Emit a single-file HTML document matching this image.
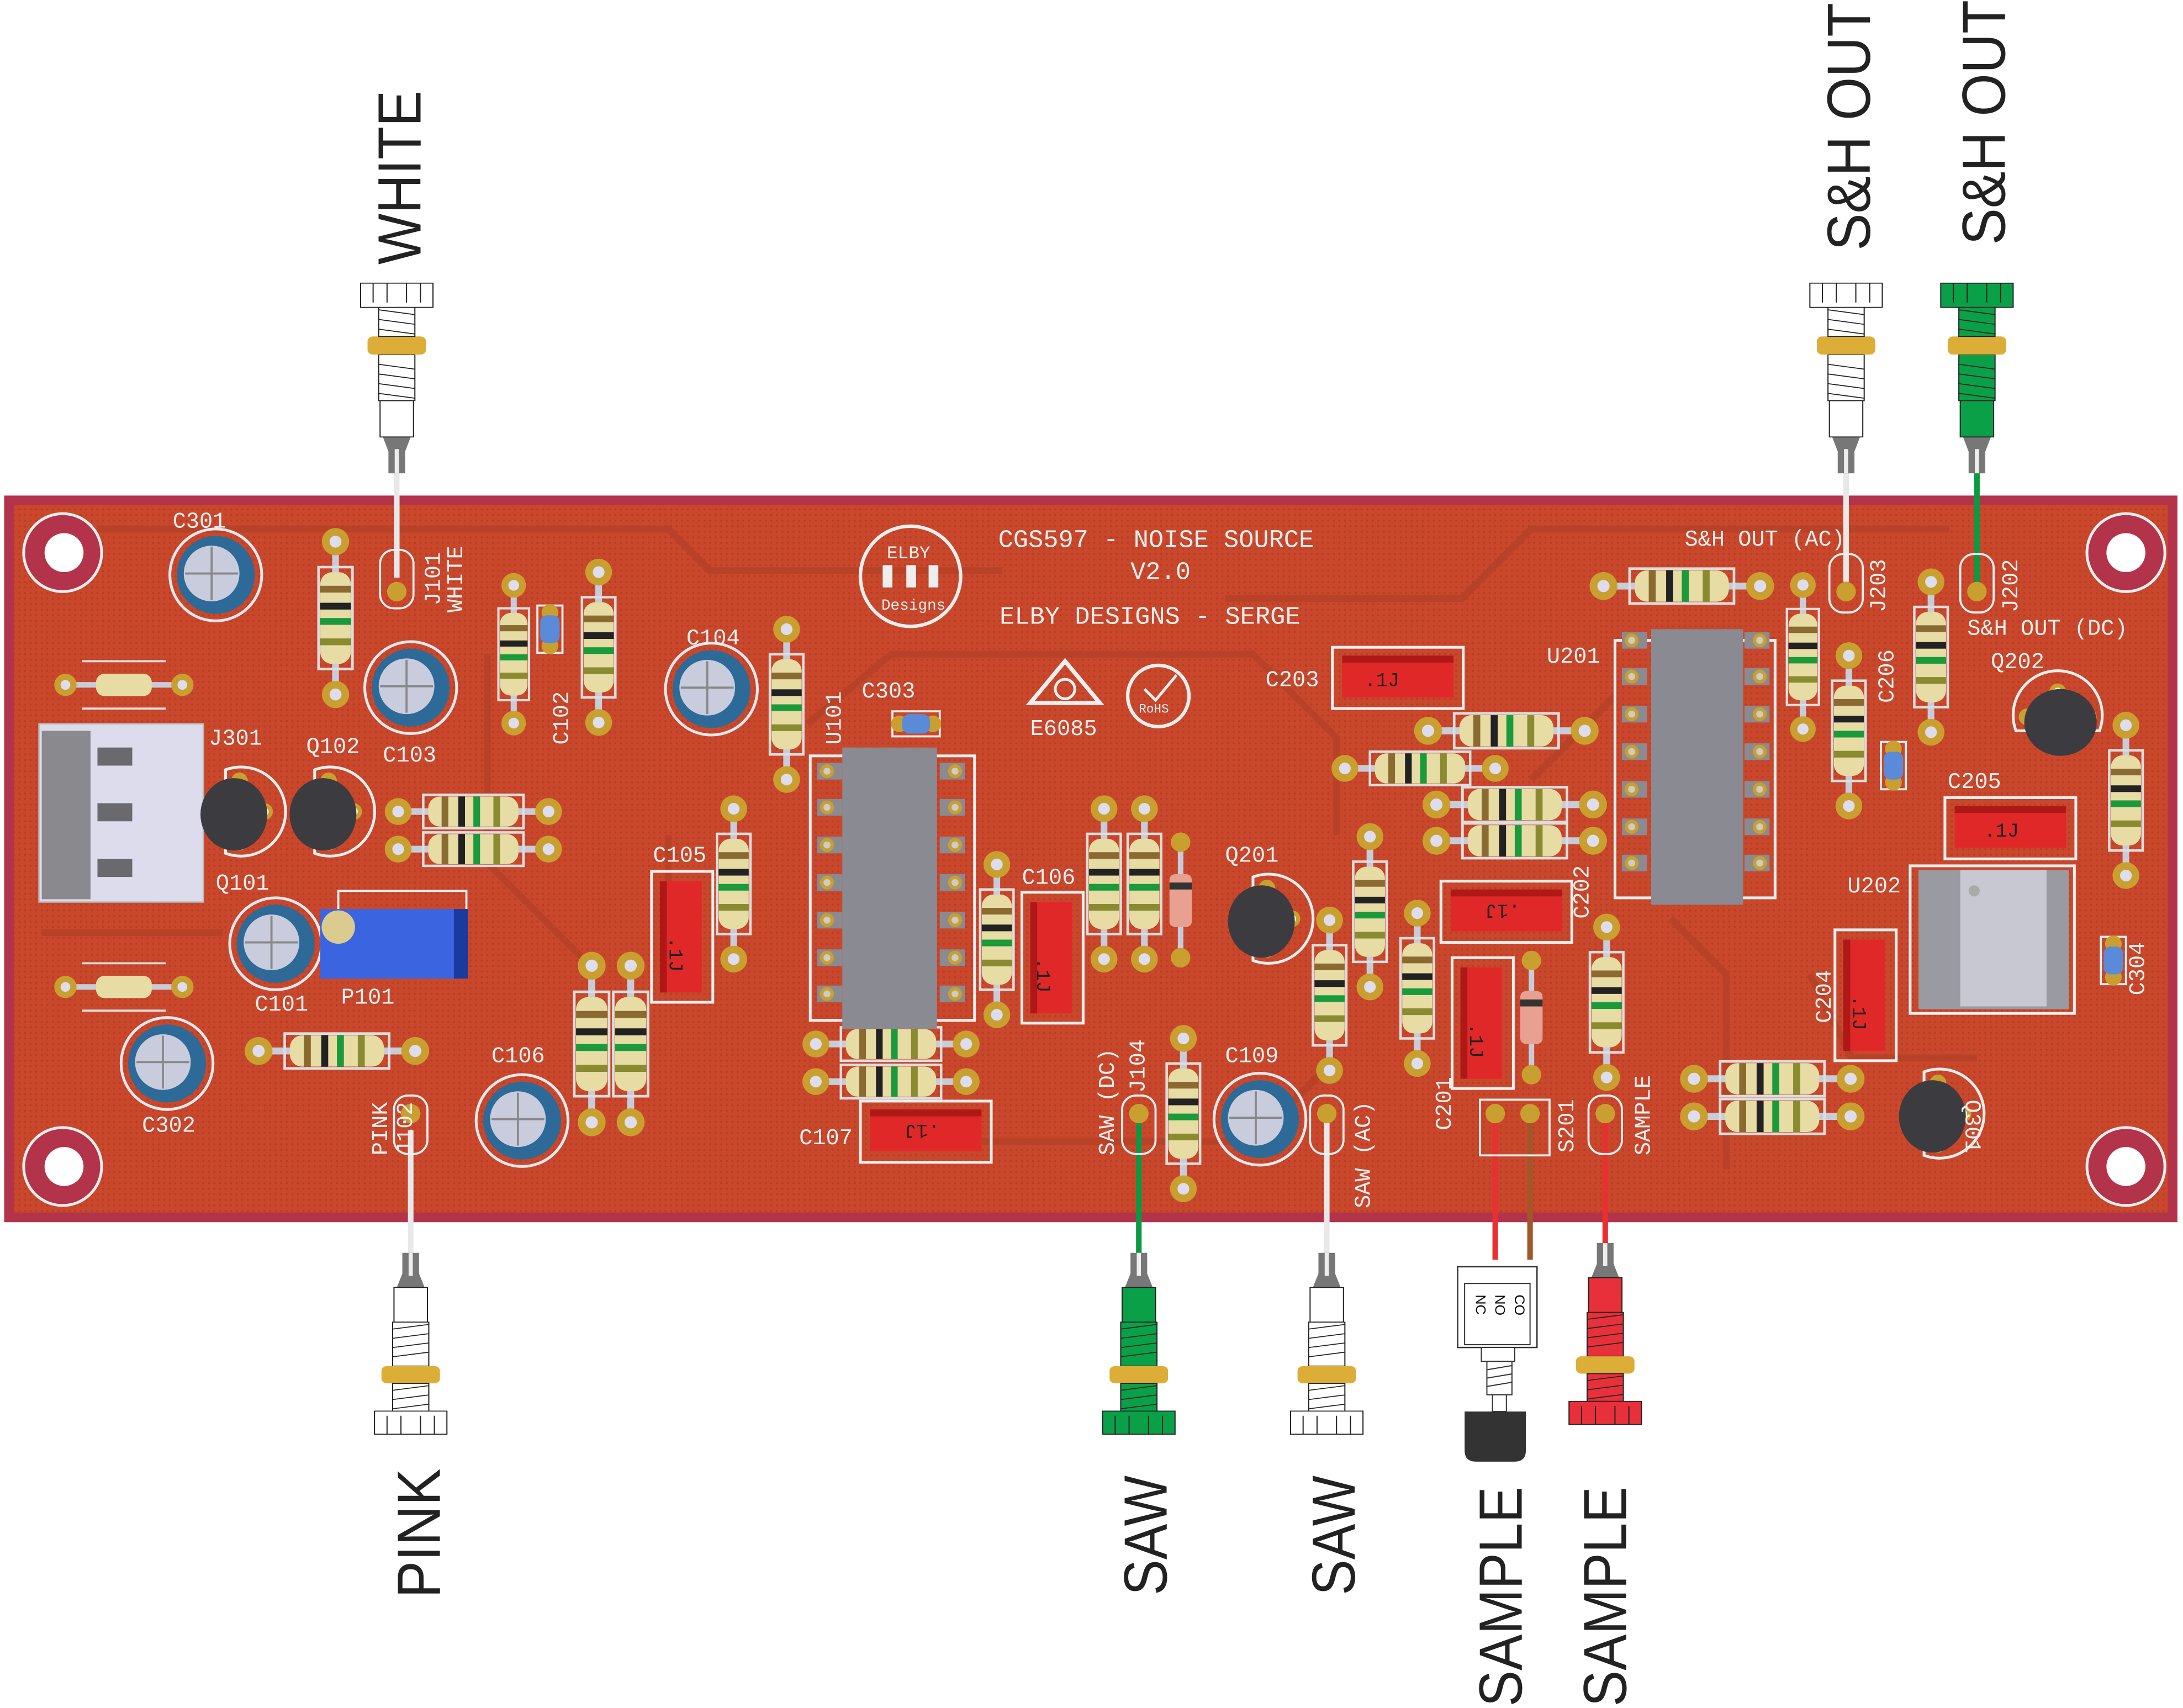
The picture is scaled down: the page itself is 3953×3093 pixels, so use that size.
<!DOCTYPE html>
<html><head><meta charset="utf-8"><style>
html,body{margin:0;padding:0;background:#fff}
svg{display:block}
.t{font-family:"Liberation Mono",monospace;fill:#eee;font-size:16px}
.big{font-family:"Liberation Sans",sans-serif;fill:#222;font-size:44px}
</style></head><body>
<svg width="3953" height="3093" viewBox="0 0 1568 1227" preserveAspectRatio="none" xmlns="http://www.w3.org/2000/svg" xmlns:xlink="http://www.w3.org/1999/xlink">
<defs>
<pattern id="dots" width="4" height="4" patternUnits="userSpaceOnUse"><rect width="4" height="4" fill="#c9482c"/><circle cx="2" cy="2" r="0.8" fill="#b83c26"/></pattern>
<g id="r">
 <line x1="-45" y1="0" x2="45" y2="0" stroke="#c8ccd8" stroke-width="4"/>
 <circle cx="-45" cy="0" r="8" fill="#c9a030"/><circle cx="45" cy="0" r="8" fill="#c9a030"/>
 <circle cx="-45" cy="0" r="3.5" fill="#dde"/><circle cx="45" cy="0" r="3.5" fill="#dde"/>
 <rect x="-30" y="-10" width="60" height="20" fill="none" stroke="#ddd" stroke-width="1.5"/>
 <rect x="-27" y="-9" width="54" height="18" rx="7" fill="#e6dca4"/>
 <rect x="-19" y="-9" width="4" height="18" fill="#8a6a30"/>
 <rect x="-9" y="-9" width="4" height="18" fill="#222"/>
 <rect x="0" y="-9" width="4" height="18" fill="#1a9a3a"/>
 <rect x="12" y="-9" width="4" height="18" fill="#8a8a30"/>
</g>
<g id="rs">
 <line x1="-42" y1="0" x2="42" y2="0" stroke="#c8ccd8" stroke-width="4"/>
 <circle cx="-42" cy="0" r="8" fill="#c9a030"/><circle cx="42" cy="0" r="8" fill="#c9a030"/>
 <circle cx="-42" cy="0" r="3.5" fill="#dde"/><circle cx="42" cy="0" r="3.5" fill="#dde"/>
 <rect x="-20" y="-8" width="40" height="16" rx="6" fill="#e6dca4"/>
 <line x1="-30" y1="-17" x2="30" y2="-17" stroke="#ddd" stroke-width="1.5"/>
 <line x1="-30" y1="17" x2="30" y2="17" stroke="#ddd" stroke-width="1.5"/>
</g>
<g id="ec">
 <circle r="33" fill="none" stroke="#e8e8ee" stroke-width="2"/>
 <circle r="28" fill="#2e6a98"/>
 <circle cx="-3" cy="-1" r="20" fill="#c9ccdd"/>
 <line x1="-22" y1="-1" x2="16" y2="-1" stroke="#888" stroke-width="1.5"/>
 <line x1="-3" y1="-20" x2="-3" y2="18" stroke="#888" stroke-width="1.5"/>
</g>
<g id="q">
 <path d="M-10,-30 A32,32 0 1 1 -10,30 Z" fill="none" stroke="#eee" stroke-width="2"/>
 <circle cx="0" cy="-22" r="6" fill="#c9a030"/><circle cx="0" cy="22" r="6" fill="#c9a030"/><circle cx="18" cy="0" r="6" fill="#c9a030"/>
 <circle cx="18" cy="0" r="3" fill="#eee"/>
 <ellipse cx="-4" cy="2" rx="24" ry="26" fill="#3c3c40"/>
</g>
<g id="cb">
 <rect x="-9" y="-17" width="18" height="34" fill="none" stroke="#eee" stroke-width="1.5"/>
 <circle cx="0" cy="-12" r="6" fill="#c9a030"/><circle cx="0" cy="12" r="6" fill="#c9a030"/>
 <rect x="-7" y="-10" width="14" height="20" rx="5" fill="#5a8ad8"/>
</g>
<g id="jk">
 <path d="M-6,0 L-6,18 L-10,30 L10,30 L6,18 L6,0 Z" fill="#777"/>
 <line x1="0" y1="0" x2="0" y2="20" stroke="#eee" stroke-width="3"/>
 <rect x="-12" y="30" width="24" height="30" stroke="#222" stroke-width="0.8"/>
 <rect x="-13" y="60" width="26" height="38" stroke="#222" stroke-width="0.8"/>
 <path d="M-13,66 L13,62 M-13,74 L13,70 M-13,82 L13,78 M-13,90 L13,86" stroke="#222" stroke-width="0.8"/>
 <rect x="-21" y="98" width="42" height="15" rx="4" fill="#dcae38"/>
 <rect x="-13" y="113" width="26" height="24" stroke="#222" stroke-width="0.8"/>
 <path d="M-13,119 L13,115 M-13,127 L13,123 M-13,135 L13,131" stroke="#222" stroke-width="0.8"/>
 <rect x="-26" y="137" width="52" height="20" stroke="#222" stroke-width="0.8"/>
 <path d="M-17,157 V141 M-7,157 V141 M7,157 V141 M17,157 V141" stroke="#222" stroke-width="0.8"/>
</g>
<g id="rc">
 <rect x="-22" y="-47" width="44" height="94" fill="none" stroke="#eee" stroke-width="2"/>
 <rect x="-16" y="-40" width="30" height="80" fill="#e02828"/>
 <rect x="-16" y="-40" width="5" height="80" fill="#b01818"/>
</g>
<g id="pin"><rect x="-9" y="-6" width="18" height="12" fill="#8a8a90"/><circle cx="-2" cy="0" r="5" fill="#c9a030"/><circle cx="-2" cy="0" r="2.5" fill="#ccc"/></g>
</defs>

<rect x="3" y="356" width="1561" height="522" fill="#b3334a"/>
<rect x="10" y="363" width="1547" height="508" fill="url(#dots)"/>
<g fill="none" stroke="#b84228" stroke-width="5">
<path d="M70,380 H480 L510,410 H720"/><path d="M350,470 V620 L420,690"/><path d="M580,520 L640,470 H900 L960,530 V600"/>
<path d="M700,820 H900 L960,760"/><path d="M1100,560 L1160,500"/><path d="M1200,660 L1240,700 V840"/><path d="M480,600 V700"/>
<path d="M30,670 H160"/><path d="M880,430 H1050 L1100,380 H1400"/><path d="M1300,700 L1330,760 H1420"/>
</g>
<g fill="#b3334a" stroke="#eee" stroke-width="2">
<circle cx="45" cy="397" r="28"/><circle cx="1527" cy="397" r="28"/><circle cx="45" cy="838" r="28"/><circle cx="1527" cy="838" r="28"/></g>
<g fill="#fff"><circle cx="46" cy="397" r="14"/><circle cx="1527" cy="397" r="14"/><circle cx="46" cy="838" r="14"/><circle cx="1527" cy="838" r="14"/></g>

<line x1="285" y1="330" x2="285" y2="415" stroke="#e8e8e8" stroke-width="4"/>
<line x1="1326" y1="330" x2="1326" y2="418" stroke="#e8e8e8" stroke-width="4"/>
<line x1="1420" y1="330" x2="1420" y2="425" stroke="#0a9a44" stroke-width="4"/>
<line x1="295" y1="812" x2="295" y2="905" stroke="#e8e8e8" stroke-width="4"/>
<line x1="818" y1="800" x2="818" y2="905" stroke="#0a9a44" stroke-width="4"/>
<line x1="953" y1="800" x2="953" y2="905" stroke="#e8e8e8" stroke-width="4"/>
<line x1="1074" y1="800" x2="1074" y2="905" stroke="#e83030" stroke-width="4"/>
<line x1="1099" y1="800" x2="1099" y2="905" stroke="#a0582a" stroke-width="4"/>
<line x1="1153" y1="800" x2="1153" y2="905" stroke="#e83030" stroke-width="4"/>

<g fill="none" stroke="#eee" stroke-width="1.5">
<rect x="273" y="395" width="24" height="42" rx="10"/><rect x="1314" y="398" width="24" height="42" rx="10"/><rect x="1408" y="398" width="24" height="42" rx="10"/>
<rect x="283" y="787" width="24" height="42" rx="10"/><rect x="806" y="787" width="24" height="42" rx="10"/><rect x="941" y="787" width="24" height="42" rx="10"/><rect x="1141" y="787" width="24" height="42" rx="10"/>
<path d="M1063,790 H1113 V830 H1063 Z"/></g>
<g fill="#c9a030"><circle cx="285" cy="425" r="7"/><circle cx="1326" cy="425" r="7"/><circle cx="1420" cy="425" r="7"/><circle cx="295" cy="800" r="7"/><circle cx="818" cy="800" r="7"/><circle cx="953" cy="800" r="7"/><circle cx="1074" cy="800" r="7"/><circle cx="1099" cy="800" r="7"/><circle cx="1153" cy="800" r="7"/></g>

<use xlink:href="#ec" x="155" y="413"/><use xlink:href="#ec" x="295" y="494"/><use xlink:href="#ec" x="511" y="495"/>
<use xlink:href="#ec" x="198" y="678"/><use xlink:href="#ec" x="120" y="764"/><use xlink:href="#ec" x="375" y="805"/><use xlink:href="#ec" x="905" y="804"/>

<rect x="28" y="520" width="118" height="128" fill="#dcdcec" stroke="#bbb"/>
<rect x="30" y="525" width="35" height="121" fill="#8a8a8e"/>
<rect x="70" y="537" width="25" height="13" fill="#6a6a6e"/><rect x="70" y="577" width="25" height="13" fill="#6a6a6e"/><rect x="70" y="617" width="25" height="13" fill="#6a6a6e"/>

<use xlink:href="#q" x="172" y="583"/><use xlink:href="#q" x="236" y="583"/>
<use xlink:href="#q" x="910" y="660"/>
<g transform="translate(1478,515) rotate(-90)"><use xlink:href="#q"/></g>
<use xlink:href="#q" x="1392" y="800"/>

<rect x="243" y="640" width="92" height="62" fill="none" stroke="#eee" stroke-width="1.5"/>
<rect x="230" y="653" width="106" height="50" fill="#3a64e0"/><rect x="326" y="653" width="10" height="50" fill="#1a3aa0"/>
<circle cx="243" cy="666" r="12" fill="#dccb8e"/>

<use xlink:href="#r" transform="translate(241,444) rotate(90) scale(1.22)"/>
<use xlink:href="#r" transform="translate(369,470) rotate(90) scale(1.1)"/>
<use xlink:href="#r" transform="translate(430,465) rotate(90) scale(1.2)"/>
<use xlink:href="#r" transform="translate(565,506) rotate(90) scale(1.2)"/>
<use xlink:href="#r" transform="translate(527,635) rotate(90) scale(1.2)"/>
<use xlink:href="#r" transform="translate(716,675) rotate(90) scale(1.2)"/>
<use xlink:href="#r" transform="translate(793,635) rotate(90) scale(1.2)"/>
<use xlink:href="#r" transform="translate(822,635) rotate(90) scale(1.2)"/>
<use xlink:href="#r" transform="translate(984,655) rotate(90) scale(1.2)"/>
<use xlink:href="#r" transform="translate(955,715) rotate(90) scale(1.2)"/>
<use xlink:href="#r" transform="translate(1018,710) rotate(90) scale(1.2)"/>
<use xlink:href="#r" transform="translate(1154,720) rotate(90) scale(1.2)"/>
<use xlink:href="#r" transform="translate(1295,472) rotate(90) scale(1.15)"/>
<use xlink:href="#r" transform="translate(1328,525) rotate(90) scale(1.2)"/>
<use xlink:href="#r" transform="translate(1387,472) rotate(90) scale(1.2)"/>
<use xlink:href="#r" transform="translate(1527,575) rotate(90) scale(1.2)"/>
<use xlink:href="#r" transform="translate(850,800) rotate(90) scale(1.2)"/>
<use xlink:href="#r" transform="translate(425,750) rotate(90) scale(1.25)"/>
<use xlink:href="#r" transform="translate(453,750) rotate(90) scale(1.25)"/>
<use xlink:href="#rs" transform="translate(89,492)"/>
<use xlink:href="#rs" transform="translate(89,709)"/>
<use xlink:href="#r" transform="translate(340,583) scale(1.2)"/>
<use xlink:href="#r" transform="translate(340,610) scale(1.2)"/>
<use xlink:href="#r" transform="translate(242,755) scale(1.25)"/>
<use xlink:href="#r" transform="translate(640,750) scale(1.2)"/>
<use xlink:href="#r" transform="translate(640,777) scale(1.2)"/>
<use xlink:href="#r" transform="translate(1208,421) scale(1.25)"/>
<use xlink:href="#r" transform="translate(1082,525) scale(1.25)"/>
<use xlink:href="#r" transform="translate(1020,552) scale(1.2)"/>
<use xlink:href="#r" transform="translate(1088,578) scale(1.25)"/>
<use xlink:href="#r" transform="translate(1088,604) scale(1.25)"/>
<use xlink:href="#r" transform="translate(1273,775) scale(1.25)"/>
<use xlink:href="#r" transform="translate(1273,802) scale(1.25)"/>

<g><line x1="848" y1="605" x2="848" y2="688" stroke="#c8ccd8" stroke-width="4"/><circle cx="848" cy="605" r="7" fill="#c9a030"/><circle cx="848" cy="688" r="7" fill="#c9a030"/><rect x="840" y="628" width="16" height="38" rx="4" fill="#e8a090"/><rect x="840" y="634" width="16" height="5" fill="#333"/></g>
<g><line x1="1100" y1="690" x2="1100" y2="772" stroke="#c8ccd8" stroke-width="4"/><circle cx="1100" cy="690" r="7" fill="#c9a030"/><circle cx="1100" cy="772" r="7" fill="#c9a030"/><rect x="1092" y="712" width="16" height="38" rx="4" fill="#e8a090"/><rect x="1092" y="718" width="16" height="5" fill="#333"/></g>

<use xlink:href="#cb" x="395" y="452"/>
<g transform="translate(658,520) rotate(90)"><use xlink:href="#cb"/></g>
<use xlink:href="#cb" x="1360" y="550"/>
<use xlink:href="#cb" x="1518" y="690"/>

<use xlink:href="#rc" x="490" y="673"/>
<use xlink:href="#rc" x="756" y="688"/>
<use xlink:href="#rc" x="1065" y="735"/>
<use xlink:href="#rc" x="1340" y="715"/>
<g transform="translate(665,813) rotate(90)"><use xlink:href="#rc"/></g>
<g transform="translate(1004,487) rotate(90)"><use xlink:href="#rc"/></g>
<g transform="translate(1082,655) rotate(90)"><use xlink:href="#rc"/></g>
<g transform="translate(1444,595) rotate(90)"><use xlink:href="#rc"/></g>
<g class="t" style="fill:#222;font-size:14px">
<text x="488" y="680" transform="rotate(90 488 673)">.1J</text>
<text x="752" y="695" transform="rotate(90 752 688)">.1J</text>
<text x="1063" y="742" transform="rotate(90 1063 735)">.1J</text>
<text x="1338" y="722" transform="rotate(90 1338 715)">.1J</text>
<text x="655" y="818" transform="rotate(180 665 813)">.1J</text>
<text x="980" y="493">.1J</text>
<text x="1072" y="660" transform="rotate(180 1082 655)">.1J</text>
<text x="1425" y="601">.1J</text>
</g>

<rect x="582" y="543" width="118" height="190" fill="none" stroke="#eee" stroke-width="2"/>
<g id="u101p">
<use xlink:href="#pin" x="596" y="554"/><use xlink:href="#pin" x="596" y="580"/><use xlink:href="#pin" x="596" y="607"/><use xlink:href="#pin" x="596" y="634"/><use xlink:href="#pin" x="596" y="661"/><use xlink:href="#pin" x="596" y="688"/><use xlink:href="#pin" x="596" y="714"/>
</g>
<use xlink:href="#u101p" transform="translate(1280,0) scale(-1,1)" />
<rect x="605" y="537" width="68" height="202" fill="#8a8a92"/>
<rect x="1160" y="460" width="115" height="185" fill="none" stroke="#eee" stroke-width="2"/>
<use xlink:href="#u101p" transform="translate(578,-94)"/>
<use xlink:href="#u101p" transform="translate(1858,-94) scale(-1,1)"/>
<rect x="1186" y="452" width="66" height="198" fill="#8a8a92"/>
<rect x="1372" y="622" width="118" height="106" fill="none" stroke="#eee" stroke-width="2"/>
<rect x="1378" y="625" width="108" height="100" fill="#9a9aa2"/>
<rect x="1408" y="625" width="62" height="98" fill="#c8c8d2"/>
<circle cx="1418" cy="640" r="4" fill="#aaa"/>

<g class="t">
<text x="717" y="393" style="font-size:18px">CGS597 - NOISE SOURCE</text>
<text x="812" y="416" style="font-size:18px">V2.0</text>
<text x="718" y="448" style="font-size:18px">ELBY DESIGNS - SERGE</text>
<text x="124" y="379">C301</text><text x="275" y="547">C103</text><text x="493" y="463">C104</text>
<text x="150" y="535">J301</text><text x="220" y="541">Q102</text><text x="155" y="639">Q101</text>
<text x="183" y="726">C101</text><text x="245" y="721">P101</text><text x="102" y="813">C302</text>
<text x="353" y="763">C106</text><text x="469" y="619">C105</text><text x="619" y="501">C303</text>
<text x="734" y="635">C106</text><text x="574" y="822">C107</text><text x="880" y="619">Q201</text>
<text x="880" y="763">C109</text><text x="909" y="493">C203</text><text x="1111" y="476">U201</text>
<text x="1210" y="392">S&amp;H OUT (AC)</text><text x="1413" y="456">S&amp;H OUT (DC)</text>
<text x="1430" y="480">Q202</text><text x="1399" y="566">C205</text><text x="1327" y="641">U202</text>
<text transform="translate(316,435) rotate(-90)">J101</text>
<text transform="translate(332,440) rotate(-90)">WHITE</text>
<text transform="translate(408,535) rotate(-90)">C102</text>
<text transform="translate(604,535) rotate(-90)">U101</text>
<text transform="translate(1141,660) rotate(-90)">C202</text>
<text transform="translate(1360,505) rotate(-90)">C206</text>
<text transform="translate(1354,440) rotate(-90)">J203</text>
<text transform="translate(1449,440) rotate(-90)">J202</text>
<text transform="translate(1315,735) rotate(-90)">C204</text>
<text transform="translate(1540,715) rotate(-90)">C304</text>
<text transform="translate(278,830) rotate(-90)">PINK</text>
<text transform="translate(296,830) rotate(-90)">J102</text>
<text transform="translate(800,830) rotate(-90)">SAW (DC)</text>
<text transform="translate(822,785) rotate(-90)">J104</text>
<text transform="translate(984,868) rotate(-90)">SAW (AC)</text>
<text transform="translate(1042,812) rotate(-90)">C201</text>
<text transform="translate(1130,828) rotate(-90)">S201</text>
<text transform="translate(1185,830) rotate(-90)">SAMPLE</text>
<text transform="translate(1412,790) rotate(90)">Q301</text>
</g>
<circle cx="654" cy="414" r="36" fill="none" stroke="#eee" stroke-width="2.5"/>
<text class="t" x="637" y="401" style="font-size:13px">ELBY</text>
<rect x="634" y="406" width="7" height="16" fill="#eee"/><rect x="651" y="406" width="7" height="16" fill="#eee"/><rect x="667" y="406" width="7" height="16" fill="#eee"/>
<text class="t" x="633" y="438" style="font-size:11px">Designs</text>
<path d="M765,475 L790,505 H740 Z" fill="none" stroke="#eee" stroke-width="3"/>
<circle cx="765" cy="495" r="7" fill="none" stroke="#eee" stroke-width="2"/>
<text class="t" x="740" y="528">E6085</text>
<circle cx="832" cy="500" r="22" fill="none" stroke="#eee" stroke-width="2.5"/>
<path d="M822,495 L830,503 L845,485" fill="none" stroke="#eee" stroke-width="2"/>
<text class="t" x="818" y="512" style="font-size:9px">RoHS</text>

<g fill="#fff"><use xlink:href="#jk" transform="translate(295,900) scale(1,0.83)"/><use xlink:href="#jk" transform="translate(953,900) scale(1,0.83)"/>
<use xlink:href="#jk" transform="translate(285,340) scale(1,-0.87)"/><use xlink:href="#jk" transform="translate(1326,340) scale(1,-0.87)"/></g>
<g fill="#0aa048"><use xlink:href="#jk" transform="translate(818,900) scale(1,0.83)"/><use xlink:href="#jk" transform="translate(1420,340) scale(1,-0.87)"/></g>
<g fill="#e8303a"><use xlink:href="#jk" transform="translate(1153,893) scale(1,0.83)"/></g>
<rect x="1047" y="910" width="57" height="58" fill="#fff" stroke="#333" stroke-width="1"/>
<rect x="1052" y="922" width="47" height="44" fill="none" stroke="#333" stroke-width="0.8"/>
<text x="1060" y="930" transform="rotate(90 1060 930)" style="font-family:'Liberation Sans',sans-serif;font-size:10px">NC</text>
<text x="1074" y="930" transform="rotate(90 1074 930)" style="font-family:'Liberation Sans',sans-serif;font-size:10px">NO</text>
<text x="1088" y="930" transform="rotate(90 1088 930)" style="font-family:'Liberation Sans',sans-serif;font-size:10px">CO</text>
<rect x="1064" y="968" width="24" height="10" fill="#fff" stroke="#333" stroke-width="0.8"/>
<rect x="1068" y="978" width="18" height="24" fill="#fff" stroke="#333" stroke-width="0.8"/>
<path d="M1068,984 L1086,981 M1068,990 L1086,987 M1068,996 L1086,993" stroke="#333" stroke-width="0.8"/>
<rect x="1072" y="1002" width="10" height="12" fill="#fff" stroke="#333" stroke-width="0.8"/>
<path d="M1052,1014 H1096 V1042 Q1096,1050 1088,1050 H1060 Q1052,1050 1052,1042 Z" fill="#333"/>

<g class="big">
<text transform="translate(302,190) rotate(-90)" textLength="125" lengthAdjust="spacingAndGlyphs">WHITE</text>
<text transform="translate(1343,180) rotate(-90)" textLength="178" lengthAdjust="spacingAndGlyphs">S&amp;H OUT</text>
<text transform="translate(1440,176) rotate(-90)" textLength="176" lengthAdjust="spacingAndGlyphs">S&amp;H OUT</text>
<text transform="translate(316,1148) rotate(-90)" textLength="93" lengthAdjust="spacingAndGlyphs">PINK</text>
<text transform="translate(838,1146) rotate(-90)" textLength="86" lengthAdjust="spacingAndGlyphs">SAW</text>
<text transform="translate(973,1146) rotate(-90)" textLength="86" lengthAdjust="spacingAndGlyphs">SAW</text>
<text transform="translate(1093,1226) rotate(-90)" textLength="158" lengthAdjust="spacingAndGlyphs">SAMPLE</text>
<text transform="translate(1168,1226) rotate(-90)" textLength="158" lengthAdjust="spacingAndGlyphs">SAMPLE</text>
</g>
</svg>
</body></html>
